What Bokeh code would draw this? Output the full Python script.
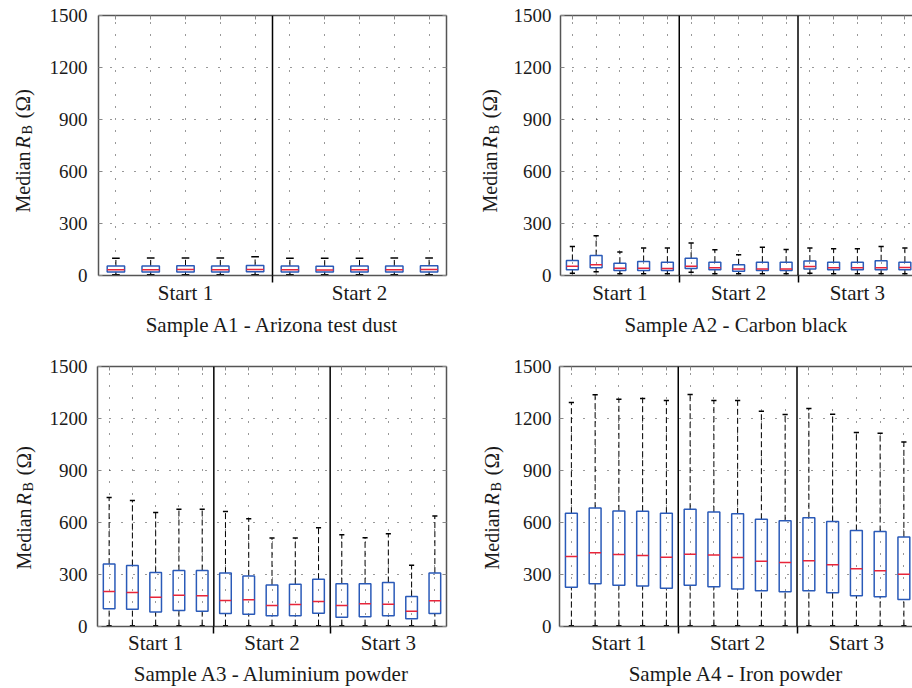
import math
from bokeh.plotting import figure
from bokeh.models import Range1d, FixedTicker, LinearAxis, Span
from bokeh.core.properties import value
from bokeh.layouts import row, column
from bokeh.embed import file_html
from bokeh.resources import INLINE

# ---------------- data ----------------
a1_groups = ["Start 1", "Start 2"]
a1_lo  = [5, 5, 5, 5, 5, 5, 5, 5, 5, 5]
a1_q1  = [20, 20, 20, 20, 21, 20, 20, 20, 20, 20]
a1_med = [33, 33, 34, 33, 35, 33, 32, 33, 33, 34]
a1_q3  = [55, 55, 56, 55, 58, 55, 54, 55, 55, 56]
a1_hi  = [100, 101, 101, 101, 108, 100, 99, 100, 101, 101]

a2_groups = ["Start 1", "Start 2", "Start 3"]
a2_lo  = [13, 21, 10, 10, 10, 19, 10, 10, 10, 10, 13, 10, 10, 10, 10]
a2_q1  = [33, 44, 29, 29, 29, 40, 33, 25, 29, 29, 37, 33, 33, 33, 33]
a2_med = [54, 62, 42, 42, 40, 54, 44, 37, 38, 38, 52, 44, 44, 44, 46]
a2_q3  = [87, 115, 71, 81, 77, 100, 77, 62, 77, 77, 83, 77, 77, 85, 77]
a2_hi  = [167, 229, 135, 158, 158, 187, 148, 119, 163, 150, 158, 154, 154, 167, 158]

a3_groups = ["Start 1", "Start 2", "Start 3"]
a3_lo  = [5, 5, 5, 5, 5, 5, 5, 5, 5, 5, 5, 5, 5, 5, 5]
a3_q1  = [102, 100, 83, 92, 88, 75, 71, 62, 62, 77, 54, 56, 62, 44, 75]
a3_med = [202, 196, 169, 181, 177, 150, 154, 121, 127, 144, 121, 131, 129, 88, 148]
a3_q3  = [360, 352, 312, 323, 323, 308, 292, 240, 244, 273, 246, 246, 254, 173, 308]
a3_hi  = [744, 727, 658, 677, 677, 663, 621, 510, 510, 569, 529, 512, 535, 354, 638]

a4_groups = ["Start 1", "Start 2", "Start 3"]
a4_lo  = [5, 5, 5, 5, 5, 5, 5, 5, 5, 5, 5, 5, 5, 5, 5]
a4_q1  = [227, 246, 238, 233, 221, 238, 229, 217, 206, 200, 206, 194, 177, 171, 156]
a4_med = [404, 425, 415, 410, 400, 417, 412, 398, 377, 369, 379, 356, 333, 321, 302]
a4_q3  = [654, 683, 667, 665, 654, 677, 660, 650, 619, 610, 627, 606, 554, 548, 517]
a4_hi  = [1292, 1337, 1311, 1315, 1304, 1338, 1304, 1304, 1242, 1223, 1258, 1225, 1119, 1115, 1065]

y_ticks = [0, 300, 600, 900, 1200, 1500]
y_grid = [300, 600, 900, 1200]
y_label_parts = ["Median", "R", "B", "(\u03a9)"]
per_group = 5

FONT = "Liberation Serif"
TXT = "#1a1a1a"
BLUE = "#2a5ab8"
RED = "#e8253a"
FRAME = "#555555"
TICK = "#888888"
FRAME_H = 260


def ylabel_fig(width, height, base_x, base_y):
    """Narrow figure that carries the rotated 'Median R_B (Ω)' label."""
    fh = height - 14   # bokeh keeps a 14px strip above the frame
    f = figure(frame_width=width, frame_height=fh, output_backend="svg",
               toolbar_location=None, title=None, x_range=Range1d(0, width),
               y_range=Range1d(0, fh), x_axis_location=None,
               y_axis_location=None, min_border=0,
               min_border_left=0, min_border_right=0,
               min_border_top=0, min_border_bottom=0)
    f.outline_line_color = None
    f.background_fill_color = "white"
    f.border_fill_color = "white"
    f.grid.visible = False
    offs = [0, 64, 78, 94]          # distance along the text direction (px)
    shift = [0, 0, 5, 0]            # subscript drop (px)
    styles = ["normal", "italic", "normal", "normal"]
    sizes = ["20px", "20px", "14px", "21px"]
    for t, o, s, st, sz in zip(y_label_parts, offs, shift, styles, sizes):
        f.text(x=[base_x + s], y=[base_y + o], text=[t], angle=math.pi / 2,
               text_align="left", text_baseline="alphabetic",
               text_font=value(FONT), text_font_style=value(st),
               text_font_size=value(sz), text_color=TXT)
    return f


def panel(lo, q1, med, q3, hi, groups, title, width, height, bl, br, bt, bb,
          x_end, standoff, right_axis, lab_standoff, title_standoff):
    n = len(med)
    xs = list(range(1, n + 1))
    vpx = 1500 / FRAME_H
    p = figure(width=width, height=height, output_backend="svg",
               toolbar_location=None, title=None, x_range=Range1d(0.5, x_end),
               y_range=Range1d(0, 1500),
               min_border_left=bl, min_border_right=br,
               min_border_top=bt, min_border_bottom=bb)
    p.outline_line_color = None
    p.background_fill_color = "white"

    p.xgrid.ticker = FixedTicker(ticks=xs)
    p.ygrid.ticker = FixedTicker(ticks=y_grid)
    for g in (p.xgrid[0], p.ygrid[0]):
        g.grid_line_color = "#333333"
        g.grid_line_dash = "1 11"
        g.grid_line_width = 1

    seps = [per_group * k + 0.5 for k in range(1, len(groups))]
    centers = [per_group * k + (per_group + 1) / 2 for k in range(len(groups))]

    xa = p.xaxis[0]
    xa.ticker = FixedTicker(ticks=centers, minor_ticks=seps)
    xa.major_label_overrides = {c: g for c, g in zip(centers, groups)}
    xa.axis_line_color = FRAME
    xa.axis_line_width = 1.5
    xa.major_tick_line_color = None
    xa.major_tick_in = 0
    xa.major_tick_out = 0
    xa.minor_tick_in = 0
    xa.minor_tick_out = 7
    xa.minor_tick_line_color = "black"
    xa.minor_tick_line_width = 1.5
    xa.major_label_standoff = lab_standoff
    xa.major_label_text_font = FONT
    xa.major_label_text_font_size = "21px"
    xa.major_label_text_color = TXT
    xa.axis_label = title
    xa.axis_label_standoff = title_standoff
    xa.axis_label_text_font = FONT
    xa.axis_label_text_font_size = "21px"
    xa.axis_label_text_font_style = "normal"
    xa.axis_label_text_color = TXT

    ya = p.yaxis[0]
    ya.ticker = FixedTicker(ticks=y_ticks, minor_ticks=[])
    ya.axis_line_color = FRAME
    ya.axis_line_width = 1.5
    ya.major_tick_in = 4
    ya.major_tick_out = 0
    ya.major_tick_line_color = TICK
    ya.major_label_standoff = standoff
    ya.major_label_text_font = FONT
    ya.major_label_text_font_size = "19px"
    ya.major_label_text_color = TXT

    top = LinearAxis(ticker=FixedTicker(ticks=[], minor_ticks=xs),
                     axis_line_color=FRAME, axis_line_width=1.5,
                     minor_tick_in=4, minor_tick_out=0,
                     minor_tick_line_color=TICK,
                     major_label_text_font_size="1px", major_label_standoff=0)
    p.add_layout(top, "above")
    if right_axis:
        ra = LinearAxis(ticker=FixedTicker(ticks=y_ticks, minor_ticks=[]),
                        axis_line_color=FRAME, axis_line_width=1.5,
                        major_tick_in=4, major_tick_out=0,
                        major_tick_line_color=TICK,
                        major_label_overrides={t: "" for t in y_ticks},
                        major_label_text_font_size="1px", major_label_standoff=0)
        p.add_layout(ra, "right")

    p.segment(x0=xs, y0=[0] * n, x1=xs, y1=[4 * vpx] * n, line_color=TICK,
              line_width=1)

    for s in seps:
        p.add_layout(Span(location=s, dimension="height", line_color="black",
                          line_width=1.5))

    bw = 0.25
    cw = 0.11
    p.segment(x0=xs, y0=q3, x1=xs, y1=hi, line_color="black", line_width=1,
              line_dash="6 3")
    p.segment(x0=xs, y0=lo, x1=xs, y1=q1, line_color="black", line_width=1,
              line_dash="6 3")
    p.segment(x0=[x - cw for x in xs], y0=hi, x1=[x + cw for x in xs], y1=hi,
              line_color="black", line_width=1.5)
    p.segment(x0=[x - cw for x in xs], y0=lo, x1=[x + cw for x in xs], y1=lo,
              line_color="black", line_width=1.5)
    p.quad(left=[x - bw for x in xs], right=[x + bw for x in xs], bottom=q1,
           top=q3, fill_color=None, line_color=BLUE, line_width=1.5)
    p.segment(x0=[x - bw for x in xs], y0=med, x1=[x + bw for x in xs], y1=med,
              line_color=RED, line_width=1.5)
    return p


l1 = ylabel_fig(46, 344, 22, 69 + 64)
p1 = panel(a1_lo, a1_q1, a1_med, a1_q3, a1_hi, a1_groups,
           "Sample A1 - Arizona test dust", 410, 344, 51, 10, 15, 69,
           10.5, 11, True, -2, 5)
l2 = ylabel_fig(54, 344, 33, 69 + 64)
p2 = panel(a2_lo, a2_q1, a2_med, a2_q3, a2_hi, a2_groups,
           "Sample A2 - Carbon black", 402, 344, 50, 0, 15, 69,
           0.5 + 352 / 23.75, 9, False, -2, 5)
l3 = ylabel_fig(46, 344, 23, 62 + 65)
p3 = panel(a3_lo, a3_q1, a3_med, a3_q3, a3_hi, a3_groups,
           "Sample A3 - Aluminium powder", 410, 344, 50, 10, 22, 62,
           15.5, 10, True, -3, 4)
l4 = ylabel_fig(54, 344, 35, 62 + 65)
p4 = panel(a4_lo, a4_q1, a4_med, a4_q3, a4_hi, a4_groups,
           "Sample A4 - Iron powder", 402, 344, 49, 0, 22, 62,
           0.5 + 353 / 23.75, 8, False, -3, 4)

layout = column(row(l1, p1, l2, p2), row(l3, p3, l4, p4))
open("out.html", "w").write(file_html(layout, INLINE))
